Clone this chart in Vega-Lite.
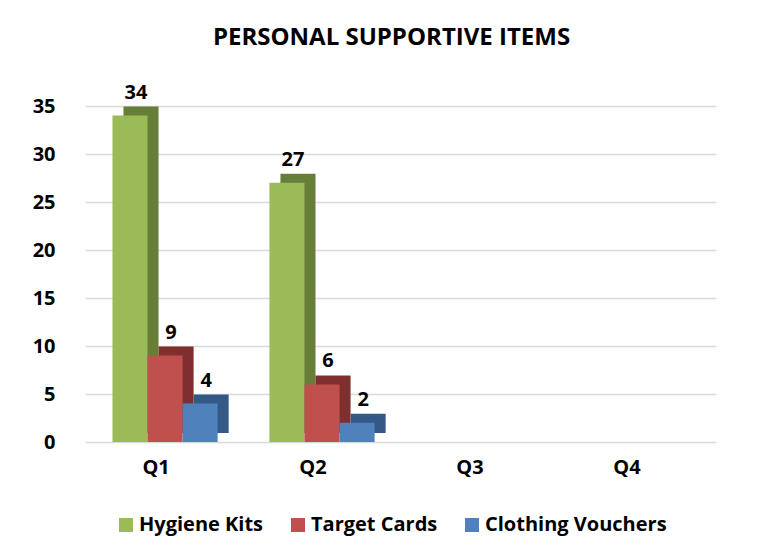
{
  "$schema": "https://vega.github.io/schema/vega-lite/v6.json",
  "width": 653,
  "height": 336,
  "autosize": {"type": "none"},
  "padding": {"left": 85, "top": 106, "right": 29, "bottom": 103},
  "background": "white",
  "title": {"text": "PERSONAL SUPPORTIVE ITEMS", "font": "Open Sans", "fontSize": 24, "fontWeight": "bold", "color": "black", "anchor": "middle", "frame": "group", "dx": -20, "offset": 33},
  "data": {"values": [
    {"quarter": "Q1", "item": "Hygiene Kits", "count": 34},
    {"quarter": "Q1", "item": "Target Cards", "count": 9},
    {"quarter": "Q1", "item": "Clothing Vouchers", "count": 4},
    {"quarter": "Q2", "item": "Hygiene Kits", "count": 27},
    {"quarter": "Q2", "item": "Target Cards", "count": 6},
    {"quarter": "Q2", "item": "Clothing Vouchers", "count": 2}
  ]},
  "encoding": {
    "x": {"field": "quarter", "type": "nominal",
      "scale": {"domain": ["Q1", "Q2", "Q3", "Q4"], "range": [0, 631], "paddingInner": 0.33, "paddingOuter": 0.175},
      "axis": {"title": null, "labelAngle": 0, "domain": false, "ticks": false, "labelFont": "Open Sans", "labelFontSize": 20, "labelFontWeight": "bold", "labelColor": "black", "labelPadding": 15, "labelOffset": -9}},
    "y": {"field": "count", "type": "quantitative",
      "scale": {"domain": [0, 35]},
      "axis": {"title": null, "values": [0, 5, 10, 15, 20, 25, 30, 35], "domain": false, "ticks": false, "labelFont": "Open Sans", "labelFontSize": 20, "labelFontWeight": "bold", "labelColor": "black", "labelPadding": 30, "gridColor": "#d9d9d9", "gridWidth": 1.5}}
  },
  "layer": [
    {"mark": {"type": "bar", "yOffset": -9, "y2Offset": -9},
     "encoding": {
       "xOffset": {"field": "item", "type": "nominal",
         "scale": {"domain": ["Hygiene Kits", "Target Cards", "Clothing Vouchers"], "range": [11, 116.2], "paddingInner": 0, "paddingOuter": 0}},
       "color": {"field": "item", "type": "nominal",
         "scale": {"domain": ["Hygiene Kits", "Target Cards", "Clothing Vouchers"], "range": ["#677e38", "#7f302e", "#335a87"]},
         "legend": null}}},
    {"mark": {"type": "bar"},
     "encoding": {
       "xOffset": {"field": "item", "type": "nominal",
         "scale": {"domain": ["Hygiene Kits", "Target Cards", "Clothing Vouchers"], "paddingInner": 0, "paddingOuter": 0}},
       "color": {"field": "item", "type": "nominal",
         "scale": {"domain": ["Hygiene Kits", "Target Cards", "Clothing Vouchers"], "range": ["#9bbb59", "#c0504d", "#4f81bd"]},
         "legend": {"orient": "none", "legendX": 31, "legendY": 409, "direction": "horizontal", "title": null, "symbolType": "square", "symbolSize": 196, "symbolStrokeWidth": 0, "labelFont": "Open Sans", "labelFontSize": 20, "labelFontWeight": "bold", "labelColor": "black", "labelLimit": 400, "columnPadding": 24, "labelOffset": 3}}}},
    {"mark": {"type": "text", "dy": -17, "baseline": "alphabetic", "font": "Open Sans", "fontSize": 20, "fontWeight": "bold", "color": "black"},
     "encoding": {
       "xOffset": {"field": "item", "type": "nominal",
         "scale": {"type": "point", "domain": ["Hygiene Kits", "Target Cards", "Clothing Vouchers"], "padding": 0.5, "range": [6, 111.2]}},
       "text": {"field": "count", "type": "quantitative"}}}
  ],
  "resolve": {"scale": {"color": "independent", "xOffset": "independent"}},
  "config": {"view": {"stroke": null}}
}
